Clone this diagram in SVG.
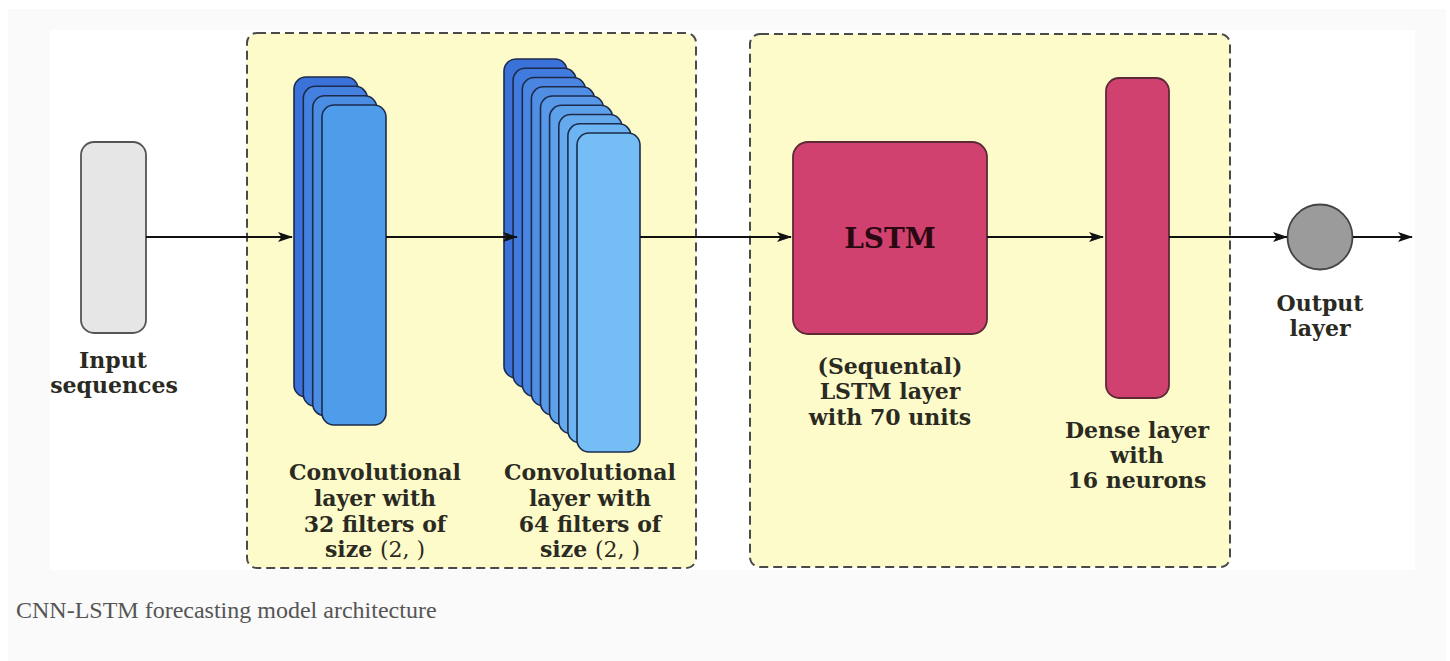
<svg xmlns="http://www.w3.org/2000/svg" width="1450" height="661" viewBox="0 0 1450 661">
  <defs>
    <marker id="arrow" viewBox="0 0 15 10" refX="14" refY="5" markerWidth="15" markerHeight="10" markerUnits="userSpaceOnUse" orient="auto">
      <path d="M0,0 L15,5 L0,10 L3.5,5 Z" fill="#111"/>
    </marker>
  </defs>
  <style>
    .group { fill: #fdfbca; stroke: #4a4a4a; stroke-width: 2; stroke-dasharray: 9 5; }
    .conv { stroke: #1c2b4c; stroke-width: 1.6; }
    .pink { fill: #d0416f; stroke: #5b2a36; stroke-width: 1.8; }
    .edge { fill: none; stroke: #111; stroke-width: 2.2; marker-end: url(#arrow); }
    .lbl { font-family: "DejaVu Serif", "Liberation Serif", serif; font-weight: bold; font-size: 22px; fill: #2a2a22; text-anchor: middle; }
    .math { font-weight: normal; }
    .caption { font-family: "Liberation Serif", "DejaVu Serif", serif; font-size: 24px; fill: #555; }
  </style>

  <!-- page background -->
  <rect x="0" y="0" width="1450" height="661" fill="#ffffff"/>
  <rect x="8" y="9" width="1438" height="652" fill="#fafafa"/>
  <rect x="50" y="30" width="1365" height="540" fill="#ffffff"/>

  <!-- dashed group frames -->
  <g id="cnn-block">
    <rect class="group" x="247" y="33" width="449" height="535" rx="10"/>
  </g>
  <g id="lstm-block">
    <rect class="group" x="750" y="34" width="480" height="533" rx="10"/>
  </g>

  <!-- input -->
  <g id="input">
    <rect x="81" y="142" width="65" height="191" rx="13" fill="#e6e6e6" stroke="#555" stroke-width="1.8"/>
    <text class="lbl" x="113" y="368">Input</text>
    <text class="lbl" x="114" y="393">sequences</text>
  </g>

  <!-- conv layer 1: 4 stacked feature maps -->
  <g id="conv1">
    <rect class="conv" x="294" y="77" width="64" height="320" rx="12" fill="#3a72da"/>
    <rect class="conv" x="303.3" y="86.3" width="64" height="320" rx="12" fill="#4480df"/>
    <rect class="conv" x="312.7" y="95.7" width="64" height="320" rx="12" fill="#4b8de3"/>
    <rect class="conv" x="322" y="105" width="64" height="320" rx="12" fill="#4f9dea"/>
    <text class="lbl" x="375" y="480">Convolutional</text>
    <text class="lbl" x="375" y="506">layer with</text>
    <text class="lbl" x="375" y="532">32 filters of</text>
    <text class="lbl" x="375" y="557">size <tspan class="math">(2, )</tspan></text>
  </g>

  <!-- conv layer 2: 9 stacked feature maps -->
  <g id="conv2">
    <rect class="conv" x="504" y="59" width="63" height="319" rx="12" fill="#3a72da"/>
    <rect class="conv" x="513.1" y="68.3" width="63" height="319" rx="12" fill="#417bdd"/>
    <rect class="conv" x="522.3" y="77.5" width="63" height="319" rx="12" fill="#4985e1"/>
    <rect class="conv" x="531.4" y="86.8" width="63" height="319" rx="12" fill="#508ee4"/>
    <rect class="conv" x="540.5" y="96" width="63" height="319" rx="12" fill="#5798e8"/>
    <rect class="conv" x="549.6" y="105.3" width="63" height="319" rx="12" fill="#5ea1eb"/>
    <rect class="conv" x="558.8" y="114.5" width="63" height="319" rx="12" fill="#66aaee"/>
    <rect class="conv" x="567.9" y="123.8" width="63" height="319" rx="12" fill="#6db4f2"/>
    <rect class="conv" x="577" y="133" width="63" height="319" rx="12" fill="#74bdf5"/>
    <text class="lbl" x="590" y="480">Convolutional</text>
    <text class="lbl" x="590" y="506">layer with</text>
    <text class="lbl" x="590" y="532">64 filters of</text>
    <text class="lbl" x="590" y="557">size <tspan class="math">(2, )</tspan></text>
  </g>

  <!-- LSTM -->
  <g id="lstm">
    <rect class="pink" x="793" y="142" width="194" height="192" rx="15"/>
    <text class="lbl" x="890" y="248" style="font-size:28px; fill:#2a0812">LSTM</text>
    <text class="lbl" x="890" y="374">(Sequental)</text>
    <text class="lbl" x="890" y="399">LSTM layer</text>
    <text class="lbl" x="890" y="425">with 70 units</text>
  </g>

  <!-- dense -->
  <g id="dense">
    <rect class="pink" x="1106" y="78" width="63" height="320" rx="13"/>
    <text class="lbl" x="1137" y="438">Dense layer</text>
    <text class="lbl" x="1137" y="463">with</text>
    <text class="lbl" x="1137" y="488">16 neurons</text>
  </g>

  <!-- output -->
  <g id="output">
    <circle cx="1320" cy="237" r="32.5" fill="#9b9b9b" stroke="#444" stroke-width="1.8"/>
    <text class="lbl" x="1320" y="311">Output</text>
    <text class="lbl" x="1320" y="336">layer</text>
  </g>

  <!-- connectors -->
  <g id="edges">
    <path class="edge" d="M146,237 H292"/>
    <path class="edge" d="M386,237 H517"/>
    <path class="edge" d="M640,237 H791"/>
    <path class="edge" d="M987,237 H1103"/>
    <path class="edge" d="M1169,237 H1287"/>
    <path class="edge" d="M1353,237 H1412"/>
  </g>

  <!-- figure caption -->
  <text class="caption" x="16" y="618">CNN-LSTM forecasting model architecture</text>
</svg>
